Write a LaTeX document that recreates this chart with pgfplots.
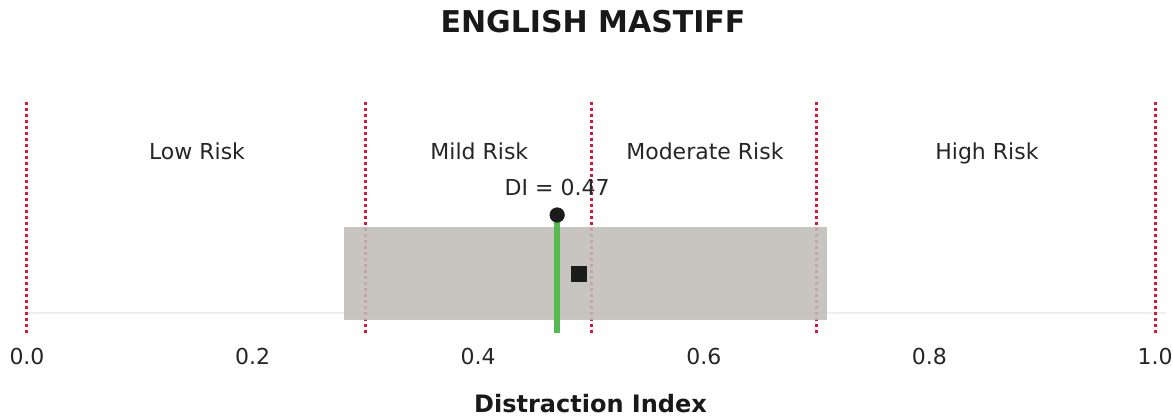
\documentclass[border=0pt]{standalone}
\usepackage{pgfplots}
\pgfplotsset{compat=1.18}
\usepackage{fontspec}
\setmainfont{DejaVu Sans}
\definecolor{riskred}{RGB}{222,22,58}
\definecolor{boxgray}{RGB}{192,188,183}
\definecolor{digreen}{RGB}{86,186,80}
\definecolor{mk}{RGB}{28,28,28}
\begin{document}
\begin{tikzpicture}
\useasboundingbox (-13.5pt,-41.5pt) rectangle (573pt,166.5pt);
\begin{axis}[
  at={(0,0)}, anchor=south west,
  scale only axis, width=564pt, height=116pt,
  xmin=0, xmax=1, ymin=83, ymax=315,
  clip=false,
  axis line style={draw=none},
  major tick length=0pt,
  ytick=\empty,
  xtick={0,0.2,0.4,0.6,0.8,1.0},
  /pgf/number format/fixed,
  /pgf/number format/fixed zerofill,
  /pgf/number format/precision=1,
  /pgf/number format/assume math mode=true,
  xticklabel style={font=\fontsize{11}{13}\selectfont, yshift=-4pt, text=black!85},
  title={\textbf{ENGLISH MASTIFF}},
  title style={at={(axis description cs:0.5018,1.3405)}, anchor=center, yshift=-6pt, font=\fontsize{15}{18}\selectfont, text=black!90},
  xlabel={\textbf{Distraction Index}},
  xlabel style={at={(axis description cs:0.4996,0)}, anchor=center, yshift=-35.5pt, font=\fontsize{12}{14}\selectfont, text=black!90},
]
% faint baseline
\addplot[draw=black!6, line width=0.8pt] coordinates {(0,103) (1.01,103)};
% risk boundaries
\addplot[riskred, line width=1.5pt, dash pattern=on 1.7pt off 1.3pt] coordinates {(0,83) (0,315)};
\addplot[riskred, line width=1.5pt, dash pattern=on 1.7pt off 1.3pt] coordinates {(0.3,83) (0.3,315)};
\addplot[riskred, line width=1.5pt, dash pattern=on 1.7pt off 1.3pt] coordinates {(0.5,83) (0.5,315)};
\addplot[riskred, line width=1.5pt, dash pattern=on 1.7pt off 1.3pt] coordinates {(0.7,83) (0.7,315)};
\addplot[riskred, line width=1.5pt, dash pattern=on 1.7pt off 1.3pt] coordinates {(1.0,83) (1.0,315)};
% range box
\addplot[draw=none, fill=boxgray, fill opacity=0.88] coordinates {(0.281,96) (0.709,96) (0.709,189) (0.281,189)} -- cycle;
% DI line
\addplot[digreen, line width=3pt] coordinates {(0.47,83) (0.47,203)};
\addplot[only marks, mark=*, mark size=3.6pt, mark options={fill=mk, draw=mk}] coordinates {(0.47,201)};
\addplot[only marks, mark=square*, mark size=3.7pt, mark options={fill=mk, draw=mk}] coordinates {(0.489,142)};
% labels
\node[anchor=base, font=\fontsize{11}{13}\selectfont, text=black!85] at (axis cs:0.1507,256) {Low Risk};
\node[anchor=base, font=\fontsize{11}{13}\selectfont, text=black!85] at (axis cs:0.401,256) {Mild Risk};
\node[anchor=base, font=\fontsize{11}{13}\selectfont, text=black!85] at (axis cs:0.601,256) {Moderate Risk};
\node[anchor=base, font=\fontsize{11}{13}\selectfont, text=black!85] at (axis cs:0.851,256) {High Risk};
\node[anchor=base, font=\fontsize{11}{13}\selectfont, text=black!85] at (axis cs:0.47,220) {DI = 0.47};
\end{axis}
\end{tikzpicture}
\end{document}
